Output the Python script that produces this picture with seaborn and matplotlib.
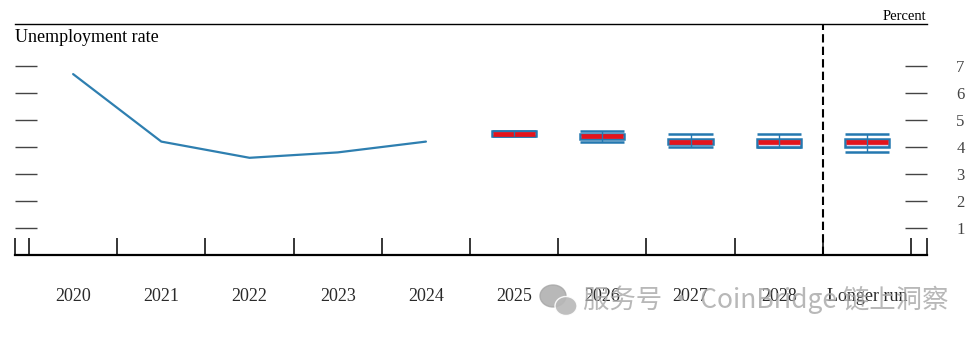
import matplotlib
matplotlib.use("Agg")
import matplotlib.pyplot as plt
import seaborn as sns
import pandas as pd
from matplotlib.patches import Rectangle, Ellipse

# Categories along the horizontal axis
categories = ["2020", "2021", "2022", "2023", "2024",
              "2025", "2026", "2027", "2028", "Longer run"]

# Actual unemployment rate (percent)
hist_years = ["2020", "2021", "2022", "2023", "2024"]
hist_rate = [6.7, 4.2, 3.6, 3.8, 4.2]

# Projections: median, central tendency and range
proj_years = ["2025", "2026", "2027", "2028", "Longer run"]
proj_median = [4.5, 4.4, 4.2, 4.2, 4.2]
ct_low = [4.4, 4.3, 4.1, 4.0, 4.0]
ct_high = [4.6, 4.5, 4.3, 4.3, 4.3]
range_low = [4.4, 4.2, 4.0, 4.0, 3.8]
range_high = [4.6, 4.6, 4.5, 4.5, 4.5]

y_ticks = [1, 2, 3, 4, 5, 6, 7]

sns.set_theme(style="white")
plt.rcParams["font.family"] = ["Liberation Serif", "DejaVu Serif"]

W, H = 975, 340
fig = plt.figure(figsize=(W / 100, H / 100), dpi=100)
ax = fig.add_axes([15 / W, 85 / H, 912 / W, 231 / H])

pos = {c: i for i, c in enumerate(categories)}

hist = pd.DataFrame({"x": [pos[y] for y in hist_years], "rate": hist_rate})
sns.lineplot(data=hist, x="x", y="rate", ax=ax, color="#2e7fb0", lw=1.6)

blue = "#2478b0"
fill = "#dcd6ee"
red = "#e4141c"
hw = 0.25
for yr, med, cl, ch, rl, rh in zip(proj_years, proj_median, ct_low, ct_high,
                                   range_low, range_high):
    x = pos[yr]
    ax.hlines([rl, rh], x - hw, x + hw, color=blue, lw=1.8, zorder=3)
    ax.add_patch(Rectangle((x - hw, cl), 2 * hw, ch - cl, facecolor=fill,
                           edgecolor=blue, lw=1.8, zorder=4))
    ax.hlines(med, x - hw + 0.01, x + hw - 0.01, color=red, lw=3.4, zorder=5)
    ax.vlines(x, rl, rh, color=blue, lw=1.0, zorder=6)

# Separator before the longer-run column
ax.axvline(8.5, color="black", lw=1.5, ls=(0, (4, 2)), zorder=2)

xmin, xmax = -0.659, 9.681
ax.set_xlim(xmin, xmax)
ax.set_ylim(0, 231 / 27)

ax.set_xticks(range(len(categories)))
ax.set_xticklabels(categories)
bounds = [i - 0.5 for i in range(len(categories) + 1)]
ax.set_xticks(bounds + [xmin + 0.002, xmax - 0.002], minor=True)
ax.tick_params(axis="x", which="major", length=0, pad=24, labelsize=13,
               labelcolor="#2a2a2a")
ax.tick_params(axis="x", which="minor", direction="in", bottom=True,
               length=12, width=1.1, color="black")

ax.set_yticks(y_ticks)
ax.tick_params(axis="y", which="major", direction="in", left=True, right=True,
               labelleft=False, labelright=True, length=16, width=1.0,
               color="#444444", pad=21, labelsize=12, labelcolor="#444444")

ax.set_xlabel("")
ax.set_ylabel("")
for side in ("left", "right"):
    ax.spines[side].set_visible(False)
ax.spines["top"].set_linewidth(1.0)
ax.spines["top"].set_color("black")
ax.spines["bottom"].set_linewidth(1.6)
ax.spines["bottom"].set_color("black")

fig.text(15 / W, 1 - 38 / H, "Unemployment rate", ha="left", va="center",
         fontsize=13, color="black")
fig.text(926 / W, 1 - 16 / H, "Percent", ha="right", va="center",
         fontsize=10.5, color="black")

# Account watermark
wm = "#a6a6a6"
fig.add_artist(Ellipse((553 / W, 1 - 296 / H), 26 / W, 22 / H,
                       transform=fig.transFigure, color=wm, alpha=0.8))
fig.add_artist(Ellipse((566 / W, 1 - 306 / H), 22 / W, 19 / H,
                       transform=fig.transFigure, color="#b8b8b8", alpha=0.9,
                       ec="white", lw=1))
fig.text(583 / W, 1 - 300 / H, "服务号 · CoinBridge 链上洞察",
         family=["Noto Sans CJK SC", "DejaVu Sans"], fontsize=19,
         color=wm, alpha=0.8, ha="left", va="center")

fig.savefig("out.png", dpi=100)
